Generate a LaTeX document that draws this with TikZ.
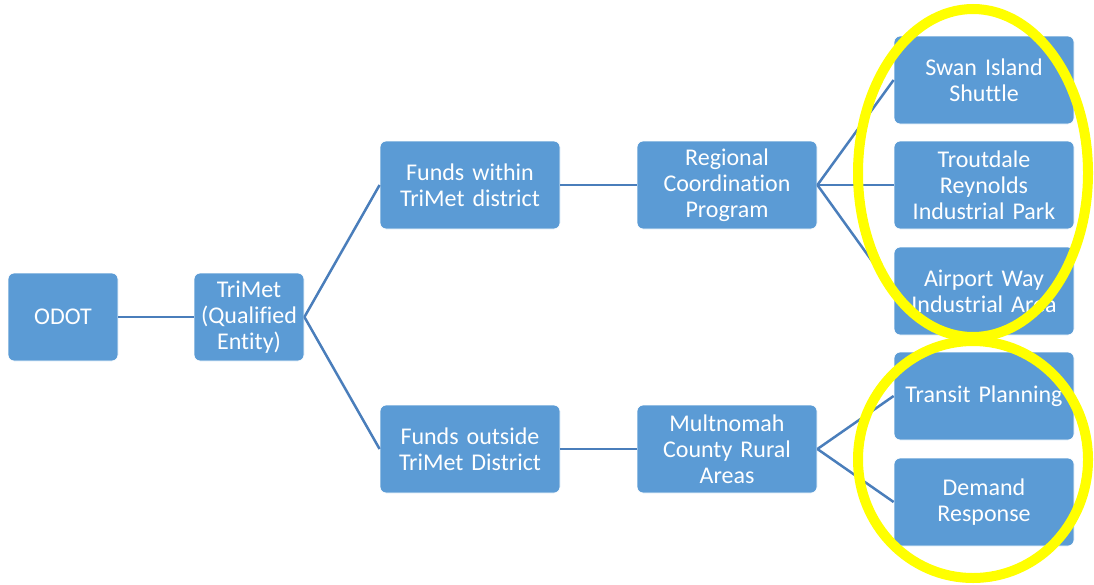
\documentclass[tikz,border=0pt]{standalone}
\usepackage{fontspec}
\setmainfont{Carlito}[Ligatures={NoCommon}]
\definecolor{boxfill}{HTML}{5B9BD5}
\definecolor{linkcol}{HTML}{4A7EBB}
\definecolor{hilite}{HTML}{FFFF00}
\begin{document}
\begin{tikzpicture}[x=1pt,y=-1pt,
  box/.style={draw=white, line width=0.8pt, fill=boxfill, rounded corners=6pt,
    text=white, align=center, inner sep=0pt,
    font=\fontsize{24}{26}\selectfont},
  smallbox/.style={box, minimum width=110pt, minimum height=88pt, text width=108pt},
  widebox/.style={box, minimum width=180pt, minimum height=88pt, text width=176pt},
  link/.style={draw=linkcol, line width=2.5pt},
  ring/.style={draw=hilite, line width=10pt}]
\useasboundingbox (0,0) rectangle (1094,584);
\node[smallbox] (odot) at (63,317) {ODOT};
\node[smallbox] (trimet) at (249,317) {TriMet\\(Qualified\\Entity)};
\node[widebox] (within) at (470,185) {Funds within\\TriMet district};
\node[widebox] (outside) at (470,449) {Funds outside\\TriMet District};
\node[widebox] (regional) at (727,185) {Regional\\Coordination\\Program};
\node[widebox] (mult) at (727,449) {Multnomah\\County Rural\\Areas};
\node[widebox] (swan) at (984,80) {Swan Island\\Shuttle};
\node[widebox] (trout) at (984,185) {Troutdale\\Reynolds\\Industrial Park};
\node[widebox] (airport) at (984,291) {Airport Way\\Industrial Area};
\node[widebox] (transit) at (984,396) {Transit Planning};
\node[widebox] (demand) at (984,502) {Demand\\Response};
\draw[link] (odot.east) -- (trimet.west);
\draw[link] (trimet.east) -- (within.west);
\draw[link] (trimet.east) -- (outside.west);
\draw[link] (within.east) -- (regional.west);
\draw[link] (outside.east) -- (mult.west);
\draw[link] (regional.east) -- (swan.west);
\draw[link] (regional.east) -- (trout.west);
\draw[link] (regional.east) -- (airport.west);
\draw[link] (mult.east) -- (transit.west);
\draw[link] (mult.east) -- (demand.west);
\draw[ring] (973,173) ellipse [x radius=115, y radius=164];
\draw[ring] (973,459.5) ellipse [x radius=115, y radius=118.5];
\end{tikzpicture}
\end{document}
